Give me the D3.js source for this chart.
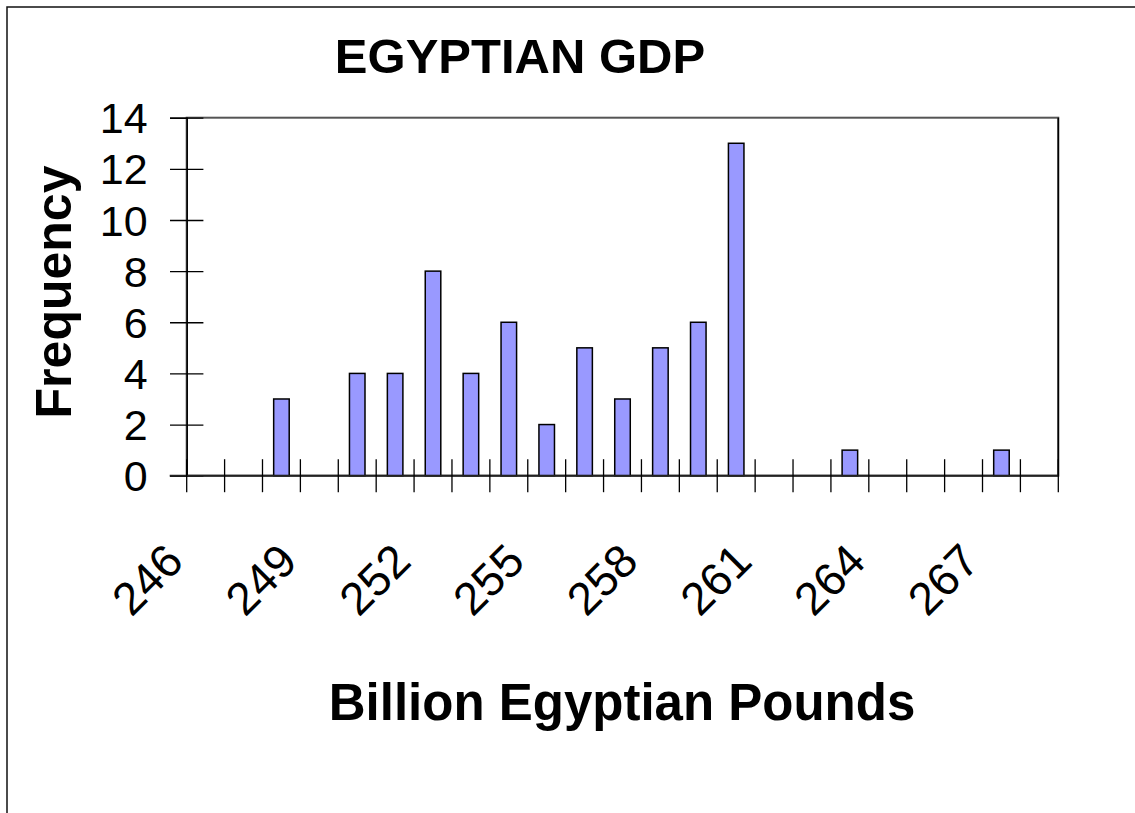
<!DOCTYPE html>
<html>
<head>
<meta charset="utf-8">
<script src="https://cdn.jsdelivr.net/npm/d3@7"></script>
<style>
	body { margin: 0; background: #fff; }
	text { font-family: Arial, "Liberation Sans", sans-serif; fill: #000; }
</style>
</head>
<body>
<div id="chart"></div>
<script>
// Histogram bins (billion EGP) and their counts
const categories = ["246", "247", "248", "249", "250", "251", "252", "253", "254", "255", "256", "257",
	"258", "259", "260", "261", "262", "263", "264", "265", "266", "267", "268"];
const frequencies = [0, 0, 3, 0, 4, 4, 8, 4, 6, 2, 5, 3, 5, 6, 13, 0, 0, 1, 0, 0, 0, 1, 0];
const yTicks = [0, 2, 4, 6, 8, 10, 12, 14];
const xTickLabels = ["246", "249", "252", "255", "258", "261", "264", "267"];

const width = 1135, height = 813;
const plot = { left: 186.7, right: 1058.3, top: 117.7, bottom: 475.7 };

let svg = d3.select("#chart").append("svg")
	.attr("width", width)
	.attr("height", height);

// outer chart border (runs off the right / bottom edge)
svg.append("rect")
	.attr("x", 7).attr("y", 7)
	.attr("width", width + 20).attr("height", height + 20)
	.attr("fill", "none")
	.attr("stroke", "#111")
	.attr("stroke-width", 1.5);

// scales
let x = d3.scaleBand()
	.domain(categories)
	.range([plot.left, plot.right])
	.padding(0);

let y = d3.scaleLinear()
	.domain([0, 14])
	.range([plot.bottom, plot.top]);

// plot area frame
svg.append("rect")
	.attr("x", plot.left).attr("y", plot.top)
	.attr("width", plot.right - plot.left)
	.attr("height", plot.bottom - plot.top)
	.attr("fill", "none")
	.attr("stroke", "#555")
	.attr("stroke-width", 2);
svg.append("line")
	.attr("x1", plot.right).attr("x2", plot.right)
	.attr("y1", plot.top).attr("y2", plot.bottom)
	.attr("stroke", "#000").attr("stroke-width", 1.5);

// bars
const barW = x.bandwidth() * 0.41;
svg.append("g")
	.selectAll("rect")
	.data(categories.map((c, i) => ({ cat: c, value: frequencies[i] })).filter(d => d.value > 0))
	.enter().append("rect")
	.attr("x", d => x(d.cat) + (x.bandwidth() - barW) / 2)
	.attr("y", d => y(d.value))
	.attr("width", barW)
	.attr("height", d => y(0) - y(d.value))
	.attr("fill", "#9999ff")
	.attr("stroke", "#000")
	.attr("stroke-width", 1.5);

// Y axis (ticks cross the axis line)
let yAxis = svg.append("g")
	.attr("transform", "translate(" + plot.left + ",0)")
	.call(d3.axisLeft(y).tickValues(yTicks).tickSize(16.7).tickPadding(0));
yAxis.select(".domain").attr("stroke", "#000").attr("stroke-width", 1.5);
yAxis.selectAll(".tick line")
	.attr("x1", 16.7).attr("x2", -16.7)
	.attr("stroke", "#000").attr("stroke-width", 1.3);
yAxis.selectAll(".tick text")
	.attr("x", -39)
	.attr("dy", "0.35em")
	.style("font-size", "43px")
	.style("font-family", "Arial, 'Liberation Sans', sans-serif");

// X axis: line plus tick marks on the category edges
let xAxis = svg.append("g");
xAxis.append("line")
	.attr("x1", plot.left - 17).attr("x2", plot.right)
	.attr("y1", plot.bottom).attr("y2", plot.bottom)
	.attr("stroke", "#222").attr("stroke-width", 2);
let edges = categories.map(c => x(c)).concat([x.range()[1]]);
xAxis.selectAll(".xtick")
	.data(edges)
	.enter().append("line")
	.attr("class", "xtick")
	.attr("x1", d => d).attr("x2", d => d)
	.attr("y1", plot.bottom - 16.5).attr("y2", plot.bottom + 16.5)
	.attr("stroke", "#000").attr("stroke-width", 1.3);

xAxis.selectAll(".xlabel")
	.data(xTickLabels)
	.enter().append("text")
	.attr("class", "xlabel")
	.attr("text-anchor", "end")
	.attr("transform", d => "translate(" + (x(d) - 1) + "," + (plot.bottom + 88) + ") rotate(-45)")
	.style("font-size", "46px")
	.text(d => d);

// titles
svg.append("text")
	.attr("x", 520).attr("y", 73)
	.attr("text-anchor", "middle")
	.style("font-size", "49px")
	.style("font-weight", "bold")
	.text("EGYPTIAN GDP");

svg.append("text")
	.attr("transform", "translate(71," + 292 + ") rotate(-90)")
	.attr("text-anchor", "middle")
	.style("font-size", "50px")
	.style("font-weight", "bold")
	.text("Frequency");

svg.append("text")
	.attr("x", 622).attr("y", 720)
	.attr("text-anchor", "middle")
	.style("font-size", "51px")
	.style("font-weight", "bold")
	.text("Billion Egyptian Pounds");
</script>
</body>
</html>
